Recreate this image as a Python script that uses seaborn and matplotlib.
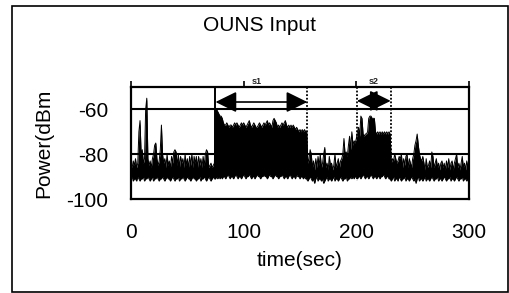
import numpy as np
import pandas as pd
import matplotlib
matplotlib.use("Agg")
import matplotlib.pyplot as plt
from matplotlib.patches import Rectangle
import seaborn as sns

# ---------------- data ----------------
time_sec = list(range(0, 301))

power_upper = [
    -84, -86, -83, -85, -82, -86, -84, -70, -65, -80,
    -78, -84, -82, -60, -55, -82, -85, -83, -86, -82,
    -80, -76, -75, -82, -85, -83, -78, -67, -80, -84,
    -82, -86, -80, -85, -83, -86, -81, -84, -79, -78,
    -79, -85, -80, -86, -81, -84, -82, -86, -80, -85,
    -82, -86, -81, -85, -80, -86, -81, -84, -81, -86,
    -81, -85, -82, -86, -81, -85, -80, -78, -79, -86,
    -85, -84, -86, -85, -84, -60, -60, -61, -62, -63,
    -63, -64, -66, -67, -67, -66, -67, -68, -67, -67,
    -68, -67, -66, -67, -66, -67, -68, -67, -66, -67,
    -66, -67, -68, -67, -66, -65, -67, -68, -67, -66,
    -67, -68, -68, -67, -66, -67, -68, -67, -66, -67,
    -66, -65, -67, -66, -67, -68, -65, -64, -65, -66,
    -68, -67, -68, -67, -66, -67, -66, -65, -67, -68,
    -67, -68, -67, -68, -67, -68, -69, -68, -69, -70,
    -69, -70, -69, -70, -69, -70, -70, -84, -82, -78,
    -80, -86, -83, -87, -82, -86, -81, -85, -80, -86,
    -84, -80, -77, -86, -84, -87, -81, -85, -84, -87,
    -85, -80, -86, -84, -82, -86, -83, -82, -80, -73,
    -80, -79, -81, -76, -72, -78, -70, -76, -74, -75,
    -73, -70, -68, -72, -63, -64, -71, -72, -71, -71,
    -70, -64, -63, -63, -64, -64, -64, -70, -71, -70,
    -71, -70, -71, -70, -71, -70, -71, -70, -71, -70,
    -71, -84, -82, -83, -80, -82, -84, -83, -81, -82,
    -80, -86, -82, -85, -81, -80, -86, -82, -84, -86,
    -82, -80, -76, -74, -71, -76, -80, -82, -83, -81,
    -84, -87, -82, -86, -85, -83, -86, -79, -81, -86,
    -84, -82, -86, -84, -87, -84, -83, -86, -84, -87,
    -83, -86, -82, -87, -84, -83, -87, -84, -82, -80,
    -86, -84, -87, -84, -81, -86, -84, -87, -83, -86, -85,
]

power_lower = [
    -91, -90, -92, -91, -91, -92, -90, -91, -92, -91,
    -91, -90, -92, -91, -91, -90, -91, -92, -91, -90,
    -92, -91, -91, -90, -91, -92, -91, -91, -90, -91,
    -92, -91, -90, -91, -91, -92, -91, -90, -91, -92,
    -91, -91, -90, -92, -91, -91, -90, -91, -92, -91,
    -90, -91, -91, -92, -91, -90, -91, -91, -92, -91,
    -91, -90, -92, -91, -91, -90, -91, -92, -91, -90,
    -91, -92, -91, -90, -91, -91, -90, -91, -90, -91,
    -90, -91, -90, -90, -91, -90, -89, -90, -91, -90,
    -90, -91, -90, -89, -90, -91, -90, -90, -91, -90,
    -89, -90, -91, -90, -90, -89, -90, -91, -90, -90,
    -91, -90, -89, -90, -90, -91, -90, -90, -89, -90,
    -90, -91, -90, -89, -90, -90, -91, -90, -89, -90,
    -90, -91, -90, -90, -89, -90, -91, -90, -90, -91,
    -90, -89, -90, -91, -90, -90, -91, -89, -90, -90,
    -91, -90, -90, -91, -90, -91, -91, -92, -91, -90,
    -91, -92, -91, -93, -91, -90, -92, -91, -91, -92,
    -91, -93, -92, -91, -90, -92, -91, -91, -92, -91,
    -90, -92, -91, -91, -92, -91, -90, -91, -92, -91,
    -91, -90, -92, -91, -91, -90, -91, -90, -91, -90,
    -90, -91, -90, -90, -91, -90, -89, -90, -91, -90,
    -90, -91, -90, -89, -90, -91, -90, -90, -91, -90,
    -90, -91, -90, -90, -89, -90, -91, -90, -90, -91,
    -91, -92, -91, -90, -92, -91, -91, -92, -90, -91,
    -92, -91, -91, -90, -92, -91, -91, -92, -91, -90,
    -91, -92, -91, -93, -91, -90, -92, -91, -91, -92,
    -91, -90, -92, -91, -91, -92, -91, -90, -91, -92,
    -91, -91, -90, -92, -91, -91, -92, -91, -90, -91,
    -92, -91, -91, -90, -92, -91, -91, -92, -91, -90,
    -91, -92, -91, -91, -90, -92, -91, -91, -92, -91, -91,
]

x_ticks = [0, 100, 200, 300]
y_ticks = [-100, -80, -60]
y_grid = [-80, -60]
segment_names = ["s1", "s2"]
segment_starts = [75, 200.5]
segment_ends = [156.5, 230.5]

title_text = "OUNS Input"
x_label = "time(sec)"
y_label = "Power(dBm"

# ---------------- style ----------------
sns.set_style("white")
plt.rcParams["font.family"] = ["Liberation Sans", "DejaVu Sans"]
plt.rcParams["axes.unicode_minus"] = False

W, H = 510, 293
fig = plt.figure(figsize=(W / 100, H / 100), dpi=100)
ax = fig.add_axes([131 / W, 1 - 199 / H, (469 - 131) / W, (199 - 87) / H])

df = pd.DataFrame({"time": time_sec, "upper": power_upper, "lower": power_lower})

ax.fill_between(df["time"], df["lower"], df["upper"], color="black", lw=0, zorder=2)
sns.lineplot(data=df, x="time", y="upper", color="black", lw=0.7, ax=ax, zorder=2)
sns.lineplot(data=df, x="time", y="lower", color="black", lw=0.7, ax=ax, zorder=2)

for yv in y_grid:
    ax.axhline(yv, color="black", lw=1.5, zorder=3)

# segment boundary lines
ax.plot([segment_starts[0]] * 2, [-50, -88], color="black", lw=1.4, zorder=3)
for xv in [segment_ends[0], segment_starts[1], segment_ends[1]]:
    ax.plot([xv, xv], [-50, -92], color="black", lw=1.3, ls=(0, (1, 1)), zorder=3)

# double arrows
arrow_y = [-56.7, -56.2]
for s, e, ay in zip(segment_starts, segment_ends, arrow_y):
    ax.annotate("", xy=(s, ay), xytext=(e, ay),
                arrowprops=dict(arrowstyle="<|-|>,head_length=0.65,head_width=0.32",
                                mutation_scale=20, lw=1.2, color="black",
                                shrinkA=0, shrinkB=0), zorder=4)

label_x = [112, 215]
for name, lx in zip(segment_names, label_x):
    ax.text(lx, -47.6, name, fontsize=6.5, fontweight="bold", ha="center",
            va="center", clip_on=False)

ax.set_xlim(0, 300)
ax.set_ylim(-100, -50)
ax.set_xticks(x_ticks)
ax.set_yticks(y_ticks)
ax.set_xticklabels([str(v) for v in x_ticks])
ax.set_yticklabels(["-" + str(abs(v)) for v in y_ticks])

ax.tick_params(axis="x", bottom=False, top=True, direction="out", length=4,
               width=1.2, color="black", labelsize=15, pad=13, labelcolor="black")
ax.tick_params(axis="y", left=False, labelsize=15, pad=13, labelcolor="black")

for sp in ax.spines.values():
    sp.set_visible(True)
    sp.set_color("black")
    sp.set_linewidth(1.6)

ax.set_xlabel(x_label, fontsize=15, labelpad=7, color="black")
ax.set_ylabel(y_label, fontsize=15, labelpad=9, color="black")
ax.set_title(title_text, fontsize=15, x=0.379, pad=40, color="black")

fig.patches.append(Rectangle((12 / W, 1 / H), (508 - 12) / W, (292 - 6) / H,
                             transform=fig.transFigure, fill=False,
                             ec="black", lw=1.2))

fig.savefig("out.png", dpi=100)
